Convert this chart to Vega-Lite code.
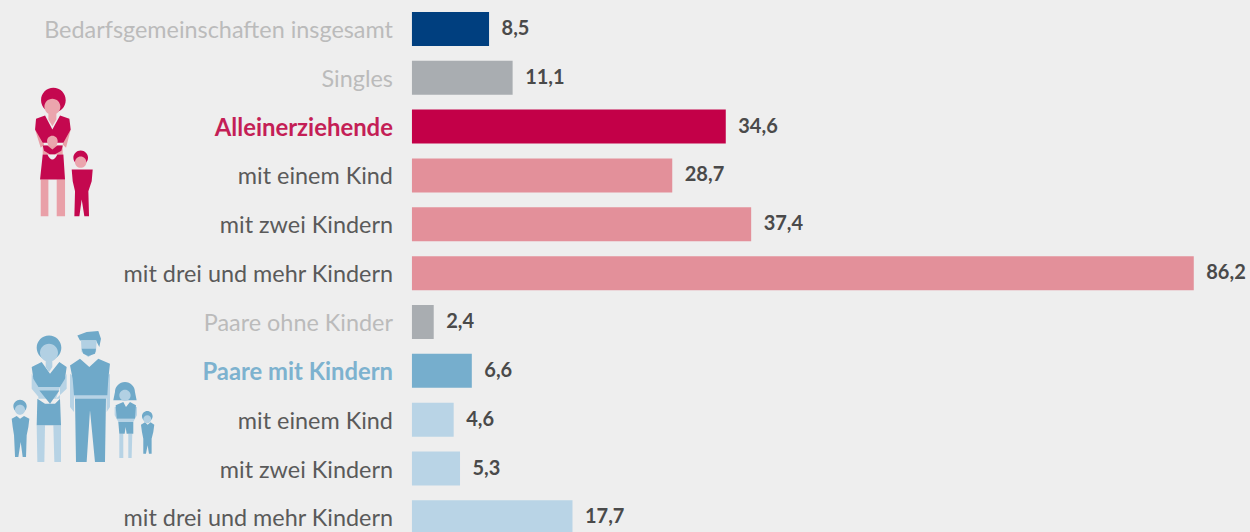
{
  "$schema": "https://vega.github.io/schema/vega-lite/v6.json",
  "width": 1250,
  "height": 532,
  "autosize": {"type": "none"},
  "padding": 0,
  "background": "#EEEEEE",
  "view": {"stroke": null},
  "datasets": {
    "reihen": [
      {"zeile": 0, "name": "Bedarfsgemeinschaften insgesamt", "wert": 8.5, "text": "8,5", "gruppe": "gesamt"},
      {"zeile": 1, "name": "Singles", "wert": 11.1, "text": "11,1", "gruppe": "grau"},
      {"zeile": 2, "name": "Alleinerziehende", "wert": 34.6, "text": "34,6", "gruppe": "allein"},
      {"zeile": 3, "name": "mit einem Kind", "wert": 28.7, "text": "28,7", "gruppe": "allein_kinder"},
      {"zeile": 4, "name": "mit zwei Kindern", "wert": 37.4, "text": "37,4", "gruppe": "allein_kinder"},
      {"zeile": 5, "name": "mit drei und mehr Kindern", "wert": 86.2, "text": "86,2", "gruppe": "allein_kinder"},
      {"zeile": 6, "name": "Paare ohne Kinder", "wert": 2.4, "text": "2,4", "gruppe": "grau"},
      {"zeile": 7, "name": "Paare mit Kindern", "wert": 6.6, "text": "6,6", "gruppe": "paare"},
      {"zeile": 8, "name": "mit einem Kind", "wert": 4.6, "text": "4,6", "gruppe": "paare_kinder"},
      {"zeile": 9, "name": "mit zwei Kindern", "wert": 5.3, "text": "5,3", "gruppe": "paare_kinder"},
      {"zeile": 10, "name": "mit drei und mehr Kindern", "wert": 17.7, "text": "17,7", "gruppe": "paare_kinder"}
    ],
    "mutter": [{"wert": -38.8, "zeile": 2.469}],
    "familie": [{"wert": -36.6, "zeile": 7.571}]
  },
  "encoding": {
    "y": {"field": "zeile", "type": "quantitative", "axis": null,
      "scale": {"domain": [-0.592, 10.3], "reverse": true, "nice": false, "zero": false, "padding": 0}}
  },
  "layer": [
    {
      "data": {"name": "reihen"},
      "mark": {"type": "bar", "orient": "horizontal", "size": 34, "clip": true},
      "encoding": {
        "x": {"field": "wert", "type": "quantitative", "stack": null, "axis": null,
          "scale": {"domain": [-45.42, 92.4], "nice": false, "zero": false, "padding": 0}},
        "color": {"field": "gruppe", "type": "nominal", "legend": null,
          "scale": {"domain": ["gesamt", "grau", "allein", "allein_kinder", "paare", "paare_kinder"],
            "range": ["#003F7F", "#A9ADB1", "#C30048", "#E3909A", "#76AECD", "#B9D4E6"]}}
      }
    },
    {
      "data": {"name": "reihen"},
      "mark": {"type": "text", "align": "left", "baseline": "middle", "dx": 12.5, "dy": 0, "font": "Lato", "fontSize": 20, "fontWeight": 700, "fill": "#4A4A4A"},
      "encoding": {
        "x": {"field": "wert", "type": "quantitative"},
        "text": {"field": "text"}
      }
    },
    {
      "data": {"name": "reihen"},
      "transform": [{"filter": "datum.gruppe != 'allein' && datum.gruppe != 'paare'"}],
      "mark": {"type": "text", "align": "right", "baseline": "middle", "dx": -19, "dy": 2, "font": "Lato", "fontSize": 23.4},
      "encoding": {
        "x": {"datum": 0, "type": "quantitative"},
        "text": {"field": "name"},
        "color": {"field": "gruppe", "type": "nominal", "legend": null,
          "scale": {"domain": ["gesamt", "grau", "allein_kinder", "paare_kinder"],
            "range": ["#BBBBBB", "#BBBBBB", "#5A5A5A", "#5A5A5A"]}}
      }
    },
    {
      "data": {"name": "reihen"},
      "transform": [{"filter": "datum.gruppe == 'allein'"}],
      "mark": {"type": "text", "align": "right", "baseline": "middle", "dx": -19, "dy": 2, "font": "Lato", "fontSize": 23.9, "fontWeight": 700, "fill": "#C41E56"},
      "encoding": {
        "x": {"datum": 0, "type": "quantitative"},
        "text": {"field": "name"}
      }
    },
    {
      "data": {"name": "reihen"},
      "transform": [{"filter": "datum.gruppe == 'paare'"}],
      "mark": {"type": "text", "align": "right", "baseline": "middle", "dx": -19, "dy": 2, "font": "Lato", "fontSize": 23.8, "fontWeight": 700, "fill": "#7DB2CF"},
      "encoding": {
        "x": {"datum": 0, "type": "quantitative"},
        "text": {"field": "name"}
      }
    },
    {
      "data": {"name": "mutter"},
      "mark": {"type": "point", "filled": true, "opacity": 1, "size": 0.444, "fill": "#E9A0A8",
        "shape": "M-75,-60L-60,-60L-48,-15L-58,-5ZM32,-60L18,-60L8,-15L18,-5ZM-58,90L-35,90L-35,200L-58,200ZM-10,90L15,90L15,200L-10,200ZM-35,-20L-10,-20L-10,10L-35,10ZM-52,-12L8,-12L8,15L-52,15Z"},
      "encoding": {"x": {"field": "wert", "type": "quantitative"}}
    },
    {
      "data": {"name": "mutter"},
      "mark": {"type": "point", "filled": true, "opacity": 1, "size": 0.444, "fill": "#C4084F",
        "shape": "M-57,-148a37,37 0 1,1 74,0a37,37 0 1,1 -74,0ZM-72,-92L-45,-102L-23,-60L0,-102L28,-92L32,-60L10,-20L-52,-20L-75,-60ZM-52,15L-38,15Q-23,45 -8,15L10,15L15,90L-60,90ZM-52,-12L-38,-12L-23,0L-8,-12L8,-12L4,4L-15,14L-31,14L-48,4ZM35,60L98,60L95,95L85,125L87,200L73,200L65,150L58,200L43,200L45,125L38,95ZM40,25a22,22 0 1,1 44,0a22,22 0 1,1 -44,0Z"},
      "encoding": {"x": {"field": "wert", "type": "quantitative"}}
    },
    {
      "data": {"name": "mutter"},
      "mark": {"type": "point", "filled": true, "opacity": 1, "size": 0.444, "fill": "#EBA5AD",
        "shape": "M-47,-128a24,24 0 1,1 48,0a24,24 0 1,1 -48,0ZM-35,-120L-11,-120L-11,-90L-23,-70L-35,-90ZM-39,-25a16,16 0 1,1 32,0a16,16 0 1,1 -32,0ZM45,38a17,17 0 1,1 34,0a17,17 0 1,1 -34,0Z"},
      "encoding": {"x": {"field": "wert", "type": "quantitative"}}
    },
    {
      "data": {"name": "familie"},
      "mark": {"type": "point", "filled": true, "opacity": 1, "size": 0.444, "fill": "#B7D3E5",
        "shape": "M-145,-75L-125,-35L-120,0L-145,-30ZM-40,-75L-60,-35L-72,0L-40,-30ZM-130,80L-105,80L-107,190L-128,190ZM-80,80L-57,80L-57,190L-77,190ZM-125,-35L-60,-35L-60,0L-125,0ZM-30,-75L-18,-65L-18,40L-30,25ZM78,-65L90,-75L90,25L80,40ZM-18,-12L82,-12L78,2L-15,2ZM110,60L165,60L160,70L115,70ZM118,105L130,105L130,178L118,178ZM145,105L157,105L155,178L145,178ZM104,25L110,25L110,60L104,50ZM165,25L171,25L171,50L165,60Z"},
      "encoding": {"x": {"field": "wert", "type": "quantitative"}}
    },
    {
      "data": {"name": "familie"},
      "mark": {"type": "point", "filled": true, "opacity": 1, "size": 0.444, "fill": "#6FA9C9",
        "shape": "M-130,-153a37,37 0 1,1 74,0a37,37 0 1,1 -74,0ZM-145,-95L-115,-110L-90,-75L-62,-110L-40,-95L-45,-60L-60,-35L-125,-35L-140,-60ZM-122,-25L-62,-25L-90,15ZM-128,0L-105,15L-75,15L-60,0L-57,80L-130,80ZM-8,-190L20,-200L55,-203L63,-180L58,-155L48,-175L0,-175ZM-30,-100L0,-120L28,-95L55,-120L90,-105L85,-60L82,-10L-18,-10L-22,-60ZM-15,0L78,0L75,190L45,190L30,35L20,190L-12,190ZM105,-20a30,30 0 1,1 60,0L170,5L100,5ZM107,20L130,10L138,25L150,10L168,20L165,60L110,60ZM115,70L160,70L160,105L140,105L137,85L134,105L118,105ZM-200,23a20,20 0 1,1 40,0a20,20 0 1,1 -40,0ZM-205,60L-190,52L-180,60L-168,52L-152,60L-155,85L-160,110L-162,175L-172,175L-178,130L-185,175L-195,175L-198,110L-202,85ZM186,53a16,16 0 1,1 32,0a16,16 0 1,1 -32,0ZM183,78L195,71L203,78L212,71L223,78L220,100L215,120L215,165L207,165L203,140L198,165L190,165L190,120L186,100Z"},
      "encoding": {"x": {"field": "wert", "type": "quantitative"}}
    },
    {
      "data": {"name": "familie"},
      "mark": {"type": "point", "filled": true, "opacity": 1, "size": 0.444, "fill": "#B2D0E3",
        "shape": "M-120,-138a27,27 0 1,1 54,0a27,27 0 1,1 -54,0ZM-103,-125L-83,-125L-83,-95L-93,-80L-103,-95ZM3,-175L50,-175L48,-140L25,-125L5,-140ZM118,-10a17,17 0 1,1 34,0a17,17 0 1,1 -34,0ZM-195,33a15,15 0 1,1 30,0a15,15 0 1,1 -30,0ZM190,62a12,12 0 1,1 24,0a12,12 0 1,1 -24,0Z"},
      "encoding": {"x": {"field": "wert", "type": "quantitative"}}
    },
    {
      "data": {"name": "familie"},
      "mark": {"type": "point", "filled": true, "opacity": 1, "size": 0.444, "fill": "#6FA9C9",
        "shape": "M5,-150L48,-150L45,-135L25,-128L10,-135Z"},
      "encoding": {"x": {"field": "wert", "type": "quantitative"}}
    }
  ],
  "resolve": {"scale": {"color": "independent"}}
}
